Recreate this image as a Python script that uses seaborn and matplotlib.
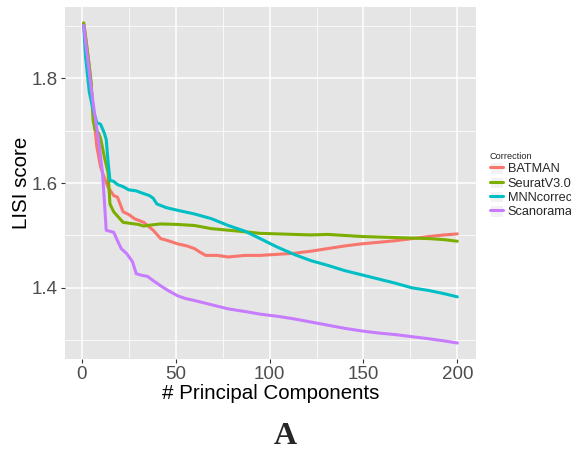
import matplotlib
matplotlib.use("Agg")
import matplotlib.pyplot as plt
import seaborn as sns
import pandas as pd
from matplotlib.lines import Line2D
from matplotlib.patches import Rectangle
from matplotlib.legend_handler import HandlerTuple
from matplotlib.ticker import MultipleLocator

methods = ["BATMAN", "SeuratV3.0", "MNNcorrect", "Scanorama"]
colors = ["#F8766D", "#7CAE00", "#00BFC4", "#C77CFF"]

batman_x = [1, 2, 4, 6, 8, 10, 12, 14, 17, 19, 22, 25, 28, 33, 38, 42, 46, 51, 56, 60, 63, 66, 72, 78,
            87, 95, 104, 113, 122, 131, 140, 149, 158, 167, 176, 185, 193, 200]
batman_y = [1.905, 1.88, 1.823, 1.74, 1.669, 1.631, 1.61, 1.592, 1.576, 1.573, 1.545, 1.54, 1.532, 1.525,
            1.51, 1.494, 1.49, 1.484, 1.48, 1.475, 1.468, 1.462, 1.462, 1.459, 1.462, 1.462, 1.464, 1.466,
            1.47, 1.475, 1.48, 1.484, 1.487, 1.49, 1.494, 1.498, 1.501, 1.503]

seurat_x = [1, 3, 5, 6, 7, 9, 10, 12, 14, 15, 17, 19, 22, 26, 30, 33, 37, 42, 51, 60, 69, 78, 87, 95,
            104, 113, 122, 131, 140, 149, 158, 167, 176, 185, 193, 200]
seurat_y = [1.905, 1.85, 1.792, 1.72, 1.702, 1.695, 1.685, 1.65, 1.619, 1.56, 1.545, 1.537, 1.525, 1.523,
            1.521, 1.518, 1.52, 1.522, 1.521, 1.519, 1.513, 1.51, 1.507, 1.504, 1.503, 1.502, 1.501,
            1.502, 1.5, 1.498, 1.497, 1.496, 1.495, 1.494, 1.492, 1.489]

mnn_x = [1, 2, 4, 6, 8, 10, 12, 13, 14, 15, 17, 19, 22, 25, 29, 32, 36, 38, 40, 45, 51, 60, 69, 78, 87,
         95, 104, 113, 122, 131, 140, 149, 158, 167, 176, 185, 193, 200]
mnn_y = [1.9, 1.84, 1.773, 1.74, 1.715, 1.712, 1.695, 1.683, 1.64, 1.605, 1.603, 1.597, 1.593, 1.587,
         1.585, 1.581, 1.576, 1.571, 1.56, 1.553, 1.548, 1.541, 1.532, 1.519, 1.508, 1.494, 1.478, 1.464,
         1.452, 1.443, 1.433, 1.425, 1.417, 1.409, 1.4, 1.395, 1.389, 1.383]

scan_x = [1, 3, 5, 7, 9, 11, 12, 13, 15, 17, 19, 21, 24, 27, 29, 32, 35, 38, 42, 46, 51, 55, 60, 69, 78,
          87, 95, 104, 113, 122, 131, 140, 149, 158, 167, 176, 185, 193, 200]
scan_y = [1.9, 1.84, 1.78, 1.727, 1.68, 1.62, 1.567, 1.51, 1.508, 1.506, 1.49, 1.475, 1.465, 1.45, 1.427,
          1.424, 1.422, 1.414, 1.404, 1.395, 1.385, 1.38, 1.376, 1.368, 1.36, 1.355, 1.35, 1.346, 1.341,
          1.335, 1.329, 1.323, 1.318, 1.314, 1.311, 1.307, 1.303, 1.299, 1.295]

xs = [batman_x, seurat_x, mnn_x, scan_x]
ys = [batman_y, seurat_y, mnn_y, scan_y]
frames = [pd.DataFrame({"pc": x, "lisi": y, "Correction": m}) for x, y, m in zip(xs, ys, methods)]
df = pd.concat(frames, ignore_index=True)

sns.set_style("darkgrid", {"axes.facecolor": "#E5E5E5", "grid.color": "white"})
plt.rcParams["font.family"] = ["Liberation Sans", "DejaVu Sans"]

fig = plt.figure(figsize=(5.71, 4.55), dpi=100)
ax = fig.add_axes([65/571, 1 - 359/455, (476-65)/571, (359-7)/455])

sns.lineplot(data=df, x="pc", y="lisi", hue="Correction", hue_order=methods,
             palette=colors, linewidth=2.2, ax=ax, legend=False, estimator=None, sort=True)

ax.set_xlim(-8.95, 209.95)
ax.set_ylim(1.2645, 1.9355)
ax.xaxis.set_minor_locator(MultipleLocator(25))
ax.yaxis.set_minor_locator(MultipleLocator(0.1))
ax.set_yticks([1.4, 1.6, 1.8])
ax.set_yticklabels(["1.4", "1.6", "1.8"])
ax.set_xticks([0, 50, 100, 150, 200])
ax.set_xticklabels(["0", "50", "100", "150", "200"])
ax.grid(which="major", color="white", linewidth=1.1)
ax.grid(which="minor", color="white", linewidth=0.55)
ax.set_axisbelow(True)
for s in ax.spines.values():
    s.set_visible(False)
ax.tick_params(axis="both", which="major", length=3, width=0.8, color="#333333",
               labelsize=13.5, labelcolor="#4D4D4D", pad=2, bottom=True, left=True)
ax.tick_params(axis="both", which="minor", length=0)

ax.set_xlabel("# Principal Components", fontsize=14.8, color="black", labelpad=1)
ax.set_ylabel("LISI score", fontsize=14.8, color="black", labelpad=1)

handles = [(Rectangle((0, 0), 1, 1, facecolor="#F2F2F2", edgecolor="white", linewidth=0.8),
            Line2D([], [], color=c, linewidth=2.2)) for c in colors]
leg = fig.legend(handles, methods, title="Correction", loc="upper left",
                 bbox_to_anchor=(481/571, 1 - 143/455), frameon=False,
                 fontsize=9.2, title_fontsize=6.6, handlelength=1.0, handleheight=1.0,
                 handletextpad=0.4, labelspacing=0.1, borderpad=0.2, alignment="left",
                 handler_map={tuple: HandlerTuple(ndivide=1, pad=0)})

fig.text(285/571, 1 - 437/455, "A", ha="center", va="center",
         fontsize=23, fontweight="bold", family=["Liberation Serif", "DejaVu Serif"])

fig.savefig("out.png", dpi=100)
